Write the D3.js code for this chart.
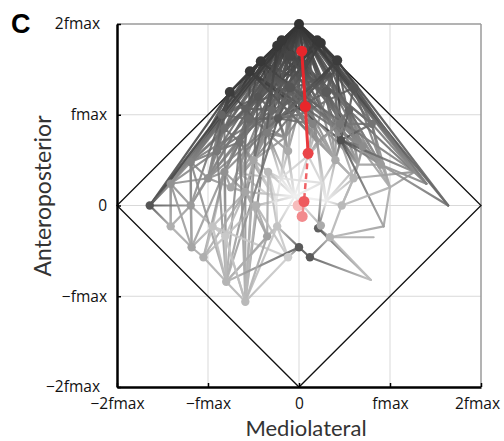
<!DOCTYPE html>
<html><head><meta charset="utf-8">
<script src="https://cdn.jsdelivr.net/npm/d3@7"></script>
<style>body{margin:0;background:#fff}svg{display:block}</style>
</head><body>
<script>
// ---- data (units of fmax) ----
const tickVals = [-2, -1, 0, 1, 2];
const tickLabels = ["\u22122fmax", "\u2212fmax", "0", "fmax", "2fmax"];
const gridVals = [-1, 0, 1];

const nodeX = [0, -0.19, -0.24, -0.42, -0.54, -0.76, 0.2, 0.24, 0.42, -0.23,
  -0.82, -0.59, -1.19, -1.41, -1.64, -1.19, -0.82, -0.59, -0.47, -0.34,
  -0.12, 0.46, 1.27, 1.4, 1.64, -1.18, -1.41, -1.05, -0.8, -0.59,
  -0.95, -0.24, -0.35, -0.12, 0, 0.12, 0.21, 0.34, 0.24, 0.47,
  0.79, 0.93, 0.82, -0.81, -0.45, -0.1, 0.3, 0.55, -0.65, -0.35,
  0.15, 0.4, 0.7, -0.5, -0.2, 0.25, 0.6, -0.75, 0.9, -0.3,
  0.1, -0.9, 0.8, -0.05, 0.3, -0.25, 0.05, -0.1, 0.6, -0.55,
  0.0, 0.45, -0.85, 0.2, -0.15, 0.65, 1.0, -1.0, -0.65, 0.35, -0.3];
const nodeY = [2, 1.82, 1.76, 1.59, 1.48, 1.25, 1.82, 1.79, 1.6, 0.96,
  0.85, 1.07, 0.48, 0.24, 0, 0, 0.37, 0.15, 0, 0.37,
  0.6, 0.72, 0.37, 0.24, 0, -0.46, -0.23, -0.57, -0.84, -1.06,
  -0.23, -0.23, -0.34, -0.57, -0.46, -0.57, -0.25, -0.35, -0.22, 0,
  -0.82, -0.23, -0.35, -0.34, 1.2, 1.3, 1.25, 1.05, 0.7, 0.8,
  0.9, 0.5, 0.65, 0.5, 0.3, 0.25, 0.3, 0.2, 0.45, 1.05,
  0.55, 0.6, 0.9, 0.1, 0.05, 0.05, 1.55, 1.65, 1.3, 0.95,
  1.0, 0.9, 1.0, 0.7, 0.75, 0.45, 0.2, 0.3, 0.35, 1.45, 1.45];
const nodeGray = [50, 55, 55, 55, 55, 60, 55, 55, 60, 90,
  110, 95, 130, 145, 85, 155, 145, 165, 175, 185,
  170, 80, 140, 130, 110, 165, 175, 175, 180, 185,
  195, 195, 160, 205, 90, 90, 95, 180, 170, 185,
  190, 160, 170, 200, 85, 85, 90, 100, 115, 125,
  130, 170, 140, 165, 225, 220, 180, 165, 155, 105,
  200, 120, 115, 240, 235, 230, 75, 70, 85, 105,
  120, 120, 100, 150, 145, 165, 175, 145, 165, 80, 80];
const dotted = [0,1,2,3,4,5,6,7,8,9,10,11,12,13,14,15,16,17,18,19,20,21,
  25,26,27,28,29,30,31,32,33,34,35,36,37,38,39,43,44,45,46,47,48,49,50,51,52,53,
  56,57,58,59,61,62,66,67,68,69,71,72,77];
const edges = [
  [0,1],[0,2],[0,3],[0,4],[0,5],[0,6],[0,7],[0,8],[0,14],[0,12],[0,13],[0,10],[0,11],[0,9],
  [0,44],[0,45],[0,46],[0,47],[0,48],[0,49],[0,50],[0,52],[0,21],[0,22],[0,23],[0,24],[0,61],
  [0,16],[0,59],[0,62],[0,53],[0,20],[0,57],[0,51],[0,58],[0,66],[0,67],[0,68],[0,56],
  [0,69],[0,70],[0,71],[0,72],[0,73],[0,74],[0,75],[0,76],[0,77],[0,78],[0,79],[0,80],[0,15],[0,17],
  [1,2],[2,3],[3,4],[4,5],[5,14],[1,9],[1,10],[1,12],[1,14],[1,21],[1,47],[1,50],[1,52],
  [2,11],[2,13],[2,16],[2,51],[2,62],[2,49],[3,12],[3,14],[3,9],[3,46],[3,58],[3,48],
  [4,13],[4,10],[4,21],[4,50],[4,56],[5,12],[5,61],[5,49],[5,15],
  [1,58],[1,76],[2,75],[3,71],[4,52],[4,73],[3,70],[5,77],[5,72],[4,69],
  [6,7],[7,8],[6,9],[6,20],[6,53],[6,22],[6,44],[6,11],[7,23],[7,59],[7,48],[7,52],[7,12],
  [8,24],[8,22],[8,21],[8,51],[8,60],[8,49],[6,77],[7,78],[8,57],[6,61],[8,16],[7,10],[8,75],[6,74],
  [80,58],[80,75],[80,22],[79,12],[79,61],[79,77],[79,72],[80,69],[79,71],[80,44],[79,46],[80,73],[79,74],
  [66,73],[66,74],[66,77],[67,75],[67,52],[68,76],[68,70],[66,48],[67,62],
  [69,78],[69,70],[69,74],[70,73],[70,51],[71,75],[71,58],[71,73],[72,77],[72,61],[72,69],
  [73,55],[74,54],[74,53],[75,56],[76,39],[76,41],[77,57],[77,15],[78,17],[78,54],[69,48],
  [70,50],[71,47],[72,10],[73,60],[74,20],[75,58],[76,22],[77,13],[78,53],[44,72],[45,70],
  [46,71],[9,70],[9,74],[9,69],[11,69],[10,72],[49,74],[50,73],[52,75],[62,71],[62,76],
  [47,75],[21,75],[21,58],[61,77],[48,78],[53,78],[12,77],[16,77],
  [44,12],[44,49],[44,59],[45,50],[45,9],[45,53],[46,51],[46,52],[46,9],[47,58],[47,21],[47,60],
  [48,61],[48,16],[48,53],[49,54],[49,20],[50,60],[50,51],[51,56],[51,55],[52,56],[52,58],
  [53,17],[53,57],[55,64],[56,39],[57,16],[57,17],[59,49],[59,11],[60,55],[60,54],[61,12],
  [61,13],[62,58],[62,21],[66,45],[66,46],[67,44],[67,11],[68,47],[68,62],[9,20],[9,50],
  [10,11],[10,61],[10,48],[11,44],[11,59],[12,13],[12,15],[13,14],[13,15],[16,17],[17,18],
  [19,54],[19,53],[20,54],[21,52],[21,51],[22,56],[23,58],[24,58],[21,22],[21,41],[62,22],[47,23],
  [29,48],[29,53],[28,61],[28,48],[29,44],[28,10],[29,11],[1,28],[2,29],[9,28],[12,28],
  [63,18],[63,19],[63,31],[63,55],[63,60],[63,17],[63,65],[63,64],[64,39],[64,56],[64,36],
  [65,18],[65,54],[65,31],[54,55],[63,20],[64,51],[65,53],[63,74],[63,54],[65,19],[65,78],
  [64,73],[64,75],[64,55],[63,49],[65,48],
  [14,15],[13,26],[15,25],[26,25],[25,27],[27,28],[28,29],[29,31],[29,32],[28,32],[27,30],
  [30,43],[43,28],[16,43],[17,32],[18,33],[31,28],[43,29],[27,17],[25,30],[26,14],[33,29],
  [28,34],[32,31],[30,17],[15,30],[12,25],[16,27],[18,29],[19,32],[43,18],
  [25,16],[26,13],[27,43],[30,16],[31,19],[32,18],[33,31],[28,30],[29,43],[33,30],[25,13],[26,15],[43,17],
  [34,33],[35,40],[35,37],[36,37],[36,40],[37,40],[37,41],[37,42],[38,36],[37,39],[38,63],
  [34,31],[36,55],[39,56],[35,34]
];
// highlighted (red) trajectory
const redX = [0.03, 0.07, 0.1, 0.055, -0.01, 0.035];
const redY = [1.70, 1.09, 0.575, 0.044, 0.0, -0.12];

// ---- drawing ----
const W = 504, H = 441;
const svg = d3.select("body").append("svg").attr("width", W).attr("height", H);
const x = d3.scaleLinear().domain([-2, 2]).range([117, 481]);
const y = d3.scaleLinear().domain([-2, 2]).range([387, 24]);
const gcol = g => d3.rgb(g, g, g).toString();

// grid
const grid = svg.append("g");
grid.selectAll(".gv").data(gridVals).join("line")
  .attr("x1", d => x(d)).attr("x2", d => x(d)).attr("y1", y(2)).attr("y2", y(-2))
  .attr("stroke", "#d9d9d9").attr("stroke-width", 1);
grid.selectAll(".gh").data(gridVals).join("line")
  .attr("y1", d => y(d)).attr("y2", d => y(d)).attr("x1", x(-2)).attr("x2", x(2))
  .attr("stroke", "#d9d9d9").attr("stroke-width", 1);
svg.append("line").attr("x1", x(-2)).attr("x2", x(2)).attr("y1", y(2)).attr("y2", y(2))
  .attr("stroke", "#9a9a9a").attr("stroke-width", 1.5);
svg.append("line").attr("x1", x(2)).attr("x2", x(2)).attr("y1", y(2)).attr("y2", y(-2))
  .attr("stroke", "#9a9a9a").attr("stroke-width", 1.5);

// diamond
const dia = [[0, 2], [2, 0], [0, -2], [-2, 0]];
svg.append("path")
  .attr("d", d3.line().x(d => x(d[0])).y(d => y(d[1])).curve(d3.curveLinearClosed)(dia))
  .attr("fill", "none").attr("stroke", "#111").attr("stroke-width", 1.3);

// network edges with gradients
const defs = svg.append("defs");
const eds = edges.map((e, i) => ({a: e[0], b: e[1], i}))
  .sort((p, q) => (nodeY[q.a] + nodeY[q.b]) - (nodeY[p.a] + nodeY[p.b]));
eds.forEach(e => {
  const lg = defs.append("linearGradient").attr("id", "g" + e.i)
    .attr("gradientUnits", "userSpaceOnUse")
    .attr("x1", x(nodeX[e.a])).attr("y1", y(nodeY[e.a]))
    .attr("x2", x(nodeX[e.b])).attr("y2", y(nodeY[e.b]));
  lg.append("stop").attr("offset", "0%").attr("stop-color", gcol(nodeGray[e.a]));
  lg.append("stop").attr("offset", "100%").attr("stop-color", gcol(nodeGray[e.b]));
});
svg.append("g").selectAll("line").data(eds).join("line")
  .attr("x1", d => x(nodeX[d.a])).attr("y1", d => y(nodeY[d.a]))
  .attr("x2", d => x(nodeX[d.b])).attr("y2", d => y(nodeY[d.b]))
  .attr("stroke", d => `url(#g${d.i})`).attr("stroke-width", 2.2)
  .attr("stroke-linecap", "round").attr("stroke-opacity", 0.9);

// nodes
svg.append("g").selectAll("circle").data(dotted).join("circle")
  .attr("cx", i => x(nodeX[i])).attr("cy", i => y(nodeY[i]))
  .attr("r", i => nodeY[i] > 1.2 ? 5 : 4.2)
  .attr("fill", i => gcol(nodeGray[i]));

// red trajectory
const redPts = redX.map((v, i) => [v, redY[i]]);
const redCol = ["#e8262b", "#e8262b", "#ea4448", "#ee5a5e", "#f7bcbc", "#f28a8d"];
const rg = svg.append("g");
rg.append("circle").attr("cx", x(redPts[4][0])).attr("cy", y(redPts[4][1])).attr("r", 5.5).attr("fill", redCol[4]);
rg.append("line").attr("x1", x(redPts[0][0])).attr("y1", y(redPts[0][1]))
  .attr("x2", x(redPts[1][0])).attr("y2", y(redPts[1][1]))
  .attr("stroke", "#e8262b").attr("stroke-width", 3);
rg.append("line").attr("x1", x(redPts[1][0])).attr("y1", y(redPts[1][1]))
  .attr("x2", x(redPts[2][0])).attr("y2", y(redPts[2][1]))
  .attr("stroke", "#e9383c").attr("stroke-width", 3);
rg.append("line").attr("x1", x(redPts[2][0])).attr("y1", y(redPts[2][1]))
  .attr("x2", x(redPts[3][0])).attr("y2", y(redPts[3][1]))
  .attr("stroke", "#ef6266").attr("stroke-width", 2.5).attr("stroke-dasharray", "6,4");
rg.append("line").attr("x1", x(redPts[3][0])).attr("y1", y(redPts[3][1]))
  .attr("x2", x(redPts[5][0])).attr("y2", y(redPts[5][1]))
  .attr("stroke", "#f28a8d").attr("stroke-width", 2.5);
rg.selectAll(".rp").data([5, 3, 2, 1, 0]).join("circle")
  .attr("cx", i => x(redPts[i][0])).attr("cy", i => y(redPts[i][1]))
  .attr("r", 5.5).attr("fill", i => redCol[i]);

// axes
const font = "'Open Sans', 'Noto Sans', sans-serif";
const xAxis = svg.append("g").attr("transform", `translate(0,${y(-2)})`)
  .call(d3.axisBottom(x).tickValues(tickVals).tickFormat((d, i) => tickLabels[i])
    .tickSizeInner(-4).tickSizeOuter(0).tickPadding(11));
const yAxis = svg.append("g").attr("transform", `translate(${x(-2)},0)`)
  .call(d3.axisLeft(y).tickValues(tickVals).tickFormat((d, i) => tickLabels[i])
    .tickSizeInner(-4).tickSizeOuter(0).tickPadding(10));
[xAxis, yAxis].forEach(a => {
  a.select(".domain").attr("stroke", "#000").attr("stroke-width", 2.5);
  a.selectAll(".tick line").attr("stroke", "#000").attr("stroke-width", 1.5);
  a.selectAll(".tick text").attr("fill", "#111").style("font-family", font).style("font-size", "15.5px");
});
xAxis.selectAll(".tick text").filter(d => d === 2).attr("dx", "-4");
yAxis.selectAll(".tick text").filter(d => Math.abs(d) === 2).attr("dx", "-7");

// titles
const titleFont = "Lato, 'Open Sans', sans-serif";
svg.append("text").attr("x", 306).attr("y", 435.5).attr("text-anchor", "middle")
  .style("font-family", titleFont).style("font-size", "22px").attr("fill", "#333").text("Mediolateral");
svg.append("text").attr("transform", "translate(51,196) rotate(-90)").attr("text-anchor", "middle")
  .style("font-family", titleFont).style("font-size", "23px").attr("fill", "#333").text("Anteroposterior");
svg.append("text").attr("x", 11).attr("y", 33)
  .style("font-family", "'Liberation Sans', Arial, sans-serif").style("font-weight", "900")
  .style("font-size", "27px").attr("fill", "#000").text("C");
</script>
</body></html>
